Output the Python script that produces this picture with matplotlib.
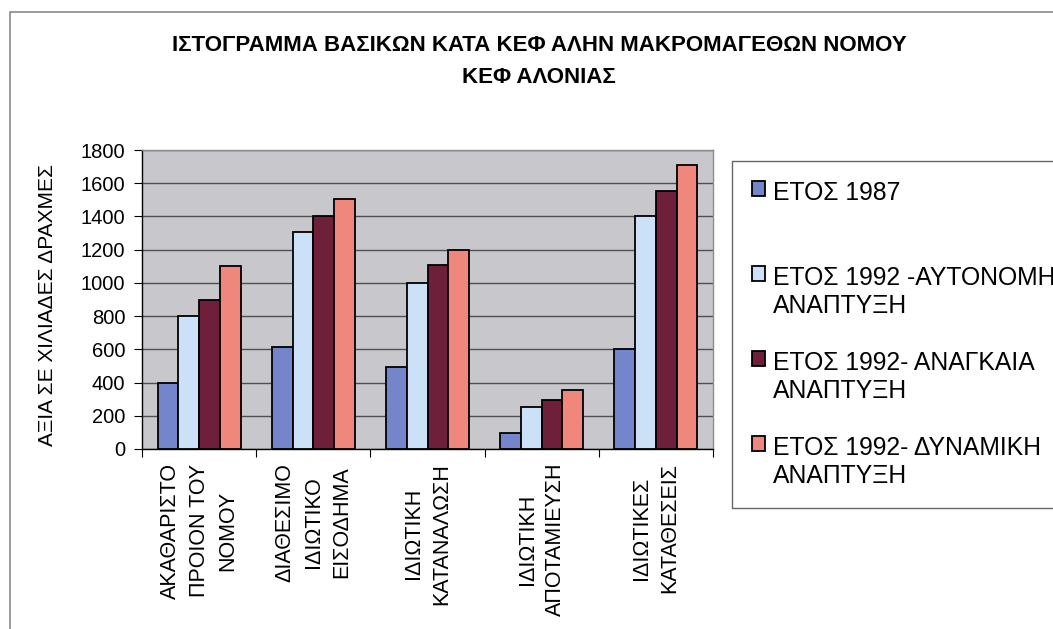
import numpy as np
import matplotlib
matplotlib.use('Agg')
import matplotlib.pyplot as plt
from matplotlib.patches import Rectangle

plt.rcParams['font.family'] = ['Liberation Sans', 'DejaVu Sans']

# data (thousand drachmas)
categories = [
    'ΑΚΑΘΑΡΙΣΤΟ\nΠΡΟΙΟΝ ΤΟΥ\nΝΟΜΟΥ',
    'ΔΙΑΘΕΣΙΜΟ\nΙΔΙΩΤΙΚΟ\nΕΙΣΟΔΗΜΑ',
    'ΙΔΙΩΤΙΚΗ\nΚΑΤΑΝΑΛΩΣΗ',
    'ΙΔΙΩΤΙΚΗ\nΑΠΟΤΑΜΙΕΥΣΗ',
    'ΙΔΙΩΤΙΚΕΣ\nΚΑΤΑΘΕΣΕΙΣ',
]
year_1987 = [400, 615, 495, 95, 600]
autonomous_1992 = [800, 1305, 1000, 250, 1400]
necessary_1992 = [900, 1400, 1105, 295, 1555]
dynamic_1992 = [1100, 1505, 1200, 355, 1710]

series_labels = [
    'ΕΤΟΣ 1987\n',
    'ΕΤΟΣ 1992 -ΑΥΤΟΝΟΜΗ\nΑΝΑΠΤΥΞΗ',
    'ΕΤΟΣ 1992- ΑΝΑΓΚΑΙΑ\nΑΝΑΠΤΥΞΗ',
    'ΕΤΟΣ 1992- ΔΥΝΑΜΙΚΗ\nΑΝΑΠΤΥΞΗ',
]
series_colors = ['#7585CC', '#CCE0F8', '#6E1F3A', '#F0877C']
yticks = list(range(0, 1801, 200))

title = 'ΙΣΤΟΓΡΑΜΜΑ ΒΑΣΙΚΩΝ ΚΑΤΑ ΚΕΦ ΑΛΗΝ ΜΑΚΡΟΜΑΓΕΘΩΝ ΝΟΜΟΥ\nΚΕΦ ΑΛΟΝΙΑΣ'
ylabel = 'ΑΞΙΑ ΣΕ ΧΙΛΙΑΔΕΣ ΔΡΑΧΜΕΣ'

fig = plt.figure(figsize=(10.53, 6.29), dpi=100)
ax = fig.add_axes([142 / 1053, 1 - 449 / 629, 571 / 1053, 299 / 629])
ax.set_facecolor('#C8C8CC')

x = np.arange(len(categories))
width = 0.182
all_series = [year_1987, autonomous_1992, necessary_1992, dynamic_1992]
handles = []
for i, (vals, col) in enumerate(zip(all_series, series_colors)):
    b = ax.bar(x + (i - 1.5) * width, vals, width, color=col,
               edgecolor='black', linewidth=1.3, zorder=3)
    handles.append(b)

ax.set_xlim(-0.5, len(categories) - 0.5)
ax.set_ylim(0, 1800)
ax.set_yticks(yticks)
ax.set_yticklabels([str(v) for v in yticks], fontsize=14.5)
ax.yaxis.grid(True, color='#505050', linewidth=1.0, zorder=0)
ax.set_axisbelow(True)

# ticks on category boundaries, labels at the centres
ax.set_xticks(np.arange(-0.5, len(categories), 1.0))
ax.set_xticklabels([])
ax.set_xticks(x, minor=True)
ax.set_xticklabels(categories, minor=True, rotation=90, fontsize=15.5,
                   ha='center', va='top', multialignment='center',
                   linespacing=1.45)
ax.tick_params(axis='x', which='major', direction='out', length=6, color='black')
ax.tick_params(axis='x', which='minor', length=0, pad=10)
ax.tick_params(axis='y', direction='out', length=6, pad=6, color='black')

for side in ['left', 'bottom']:
    ax.spines[side].set_color('black')
    ax.spines[side].set_linewidth(1.0)
for side in ['top', 'right']:
    ax.spines[side].set_color('#8C8C8C')
    ax.spines[side].set_linewidth(1.0)

ax.set_ylabel(ylabel, fontsize=15)
ax.yaxis.set_label_coords(-0.149, 0.48)

fig.text(539 / 1053, 1 - 35 / 629, title, ha='center', va='top',
         fontsize=16, fontweight='bold', linespacing=1.68)

leg = ax.legend(handles, series_labels, loc='upper left',
                bbox_to_anchor=(732 / 1053, 1 - 161 / 629),
                bbox_transform=fig.transFigure, borderaxespad=0,
                fontsize=17.8, handlelength=0.54, handleheight=0.54,
                handletextpad=0.3, labelspacing=1.35, borderpad=0.8,
                fancybox=False, framealpha=1, edgecolor='#666666')
leg.get_frame().set_linewidth(1.0)
for t in leg.get_texts():
    t.set_linespacing(1.2)
# put each swatch next to the first line of its label
for col in leg._legend_handle_box.get_children():
    for row in col.get_children():
        row.align = 'top'

# page frame of the scanned figure
fig.add_artist(Rectangle((10 / 1053, -0.5), 2.0, 0.5 + 1 - 12 / 629,
                         transform=fig.transFigure, fill=False,
                         edgecolor='#8A8A8A', linewidth=1.2))

fig.savefig('out.png', dpi=100)
